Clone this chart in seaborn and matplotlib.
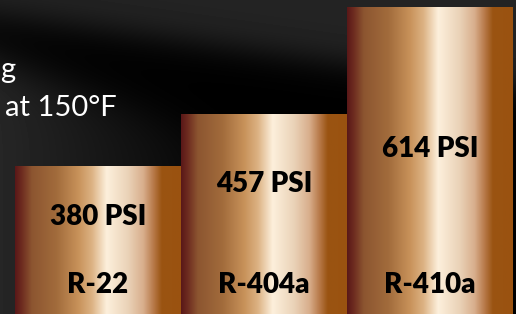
import numpy as np
import seaborn as sns
import matplotlib.pyplot as plt
from matplotlib.colors import LinearSegmentedColormap

refrigerants = ["R-22", "R-404a", "R-410a"]
pressures = [380, 457, 614]
value_labels = ["380 PSI", "457 PSI", "614 PSI"]
title_lines = ["g", "at 150°F"]

# layout
YMIN, YMAX = 162, 624.3
label_frac = [0.60, 0.61, 0.51]
name_y = 193

sns.set_theme(style="white")
plt.rcParams["font.family"] = ["Lato", "DejaVu Sans"]

copper = LinearSegmentedColormap.from_list("copper_bar", [
    (0.00, "#5a1818"), (0.04, "#6e2c20"), (0.10, "#8c5530"), (0.25, "#a26c3c"),
    (0.38, "#c8925a"), (0.46, "#dcb283"), (0.55, "#fdf0dc"), (0.68, "#ead2b7"),
    (0.77, "#d8ae8c"), (0.83, "#b87a4a"), (0.88, "#9a5412"), (1.00, "#9a5210"),
])

fig = plt.figure(figsize=(5.16, 3.14), dpi=100)

# dark background with grey swooshes
bg = fig.add_axes([0, 0, 1, 1], zorder=0)
yy, xx = np.mgrid[0:314, 0:516]
top = 1 / (1 + np.exp(-((15 + 0.14 * xx) - yy) / 10))
left = 1 / (1 + np.exp(-(yy - (60 + 0.35 * xx)) / 14)) * np.clip(1 - xx / 260, 0, 1)
shade = 0.14 * top + 0.15 * left
bg.imshow(shade, cmap="gray", vmin=0, vmax=1, aspect="auto", interpolation="bilinear")
bg.axis("off")

ax = fig.add_axes([0, 0, 1, 1], zorder=1)
ax.patch.set_alpha(0)
sns.barplot(x=refrigerants, y=pressures, width=1.0, color="#c8925a",
            saturation=1, linewidth=0, ax=ax)

grad = np.linspace(0, 1, 256).reshape(1, -1)
for p in ax.patches:
    x0, w, h = p.get_x(), p.get_width(), p.get_height()
    im = ax.imshow(grad, cmap=copper, aspect="auto", interpolation="bilinear",
                   extent=[x0, x0 + w, 0, h], zorder=2)
    im.set_clip_path(p)
    p.set_facecolor("none")

for i, (v, lab, name) in enumerate(zip(pressures, value_labels, refrigerants)):
    ax.text(i, YMIN + label_frac[i] * (v - YMIN), lab, ha="center", va="baseline",
            fontsize=20, fontweight="heavy", color="black", zorder=3)
    ax.text(i, name_y, name, ha="center", va="baseline",
            fontsize=20, fontweight="heavy", color="black", zorder=3)

ax.set_xlim(-0.5 - 15 / 166, 2.5 + 3 / 166)
ax.set_ylim(YMIN, YMAX)
ax.axis("off")

fig.text(0 / 516, 1 - 78 / 314, title_lines[0], color="white", fontsize=21,
         ha="left", va="baseline")
fig.text(5 / 516, 1 - 116 / 314, title_lines[1], color="white", fontsize=21,
         ha="left", va="baseline")

fig.savefig("out.png", dpi=100, facecolor="black")
